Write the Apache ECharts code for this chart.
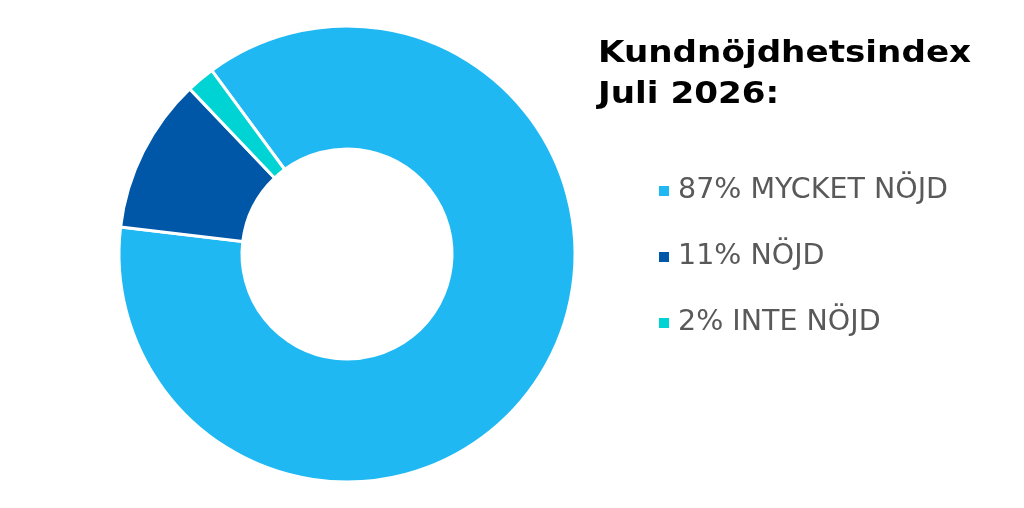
<!DOCTYPE html>
<html><head><meta charset="utf-8">
<script src="https://cdn.jsdelivr.net/npm/echarts@6/dist/echarts.min.js"></script>
<style>html,body{margin:0;padding:0;background:#fff}#c{width:1024px;height:508px}</style>
</head><body><div id="c"></div>
<script>
const categories = ['MYCKET NÖJD', 'NÖJD', 'INTE NÖJD'];
const values = [87, 11, 2];
const colors = ['#1FB8F2', '#0057A8', '#00D3D3'];
const titleLines = ['Kundnöjdhetsindex', 'Juli 2026:'];

const FONT = '"DejaVu Sans"';
const chart = echarts.init(document.getElementById('c'), null, {renderer: 'canvas'});
const valueByName = {};
categories.forEach((c, i) => valueByName[c] = values[i]);
chart.setOption({
  animation: false,
  graphic: [{
    type: 'text', x: 598, y: 34, scaleX: 1.14,
    style: {text: titleLines.join('\n'), font: 'bold 30px ' + FONT, fill: '#000', lineHeight: 41}
  }],
  legend: {
    orient: 'vertical', left: 657, top: 176, padding: 0,
    itemWidth: 12, itemHeight: 12, itemGap: 36, icon: 'rect',
    textStyle: {fontFamily: 'DejaVu Sans', fontSize: 28.5, lineHeight: 30, color: '#595959', padding: [0,0,0,3]},
    formatter: name => valueByName[name] + '% ' + name,
    data: categories
  },
  series: [{
    type: 'pie',
    center: [347, 254],
    radius: [105, 228],
    startAngle: 126.4,
    clockwise: true,
    label: {show: false}, labelLine: {show: false},
    itemStyle: {borderColor: '#fff', borderWidth: 3},
    emphasis: {disabled: true},
    data: categories.map((c, i) => ({name: c, value: values[i], itemStyle: {color: colors[i]}}))
  }]
});
</script></body></html>
